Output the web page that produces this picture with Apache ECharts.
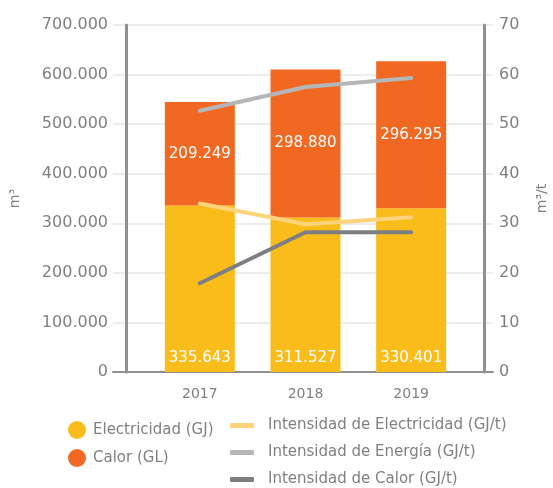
<!DOCTYPE html>
<html>
<head>
<meta charset="utf-8">
<script src="https://cdn.jsdelivr.net/npm/echarts@6/dist/echarts.min.js"></script>
<style>
  html, body { margin: 0; padding: 0; background: #fff; }
  #chart { width: 553px; height: 488px; }
</style>
</head>
<body>
<div id="chart"></div>
<script>
const years = ['2017', '2018', '2019'];
const electricidad = [335643, 311527, 330401];
const calor = [209249, 298880, 296295];
const intElectricidad = [34.0, 29.8, 31.2];
const intEnergia = [52.7, 57.5, 59.3];
const intCalor = [17.9, 28.2, 28.2];

const font = 'DejaVu Sans';
const grey = '#7f8083';
const axisGrey = '#8e9094';

// 335643 -> "335.643"
const fmt = (v) => String(Math.round(v)).replace(/\B(?=(\d{3})+(?!\d))/g, '.');

const chart = echarts.init(document.getElementById('chart'));

chart.setOption({
  backgroundColor: '#fff',
  animation: false,
  textStyle: { fontFamily: font },
  grid: [
    { left: 113, right: 60, top: 25, bottom: 116, outerBoundsMode: 'none', containLabel: false },
    { left: 147, right: 89, top: 25, bottom: 116, outerBoundsMode: 'none', containLabel: false },
  ],
  legend: [
    {
      orient: 'vertical',
      left: 68,
      top: 421,
      padding: 0,
      icon: 'circle',
      itemWidth: 18,
      itemHeight: 18,
      itemGap: 10,
      data: ['Electricidad (GJ)', 'Calor (GL)'],
      textStyle: { color: grey, fontSize: 15, fontFamily: font, padding: [0, 0, 0, 2] },
    },
    {
      orient: 'vertical',
      left: 230,
      top: 418,
      height: 70,
      padding: 0,
      icon: 'roundRect',
      itemWidth: 24,
      itemHeight: 5,
      itemGap: 12,
      data: ['Intensidad de Electricidad (GJ/t)', 'Intensidad de Energía (GJ/t)', 'Intensidad de Calor (GJ/t)'],
      textStyle: { color: grey, fontSize: 15, lineHeight: 15, fontFamily: font, padding: [0, 0, 0, 9] },
    },
  ],
  xAxis: [
    {
      gridIndex: 0,
      type: 'category',
      data: [''],
      axisLine: { lineStyle: { color: axisGrey, width: 2 } },
      axisTick: { show: false },
      axisLabel: { show: false },
    },
    {
      gridIndex: 1,
      type: 'category',
      data: years,
      axisLine: { show: false },
      axisTick: { show: false },
      axisLabel: { color: grey, fontSize: 14, margin: 15 },
    },
  ],
  yAxis: [
    {
      gridIndex: 0,
      type: 'value',
      position: 'left',
      offset: -13,
      min: 0,
      max: 700000,
      interval: 100000,
      name: 'm³',
      nameLocation: 'middle',
      nameRotate: 90,
      nameGap: 104,
      nameTextStyle: { color: grey, fontSize: 14 },
      axisLine: { show: true, lineStyle: { color: axisGrey, width: 3 } },
      axisTick: { show: false },
      axisLabel: { color: grey, fontSize: 16, margin: 18, formatter: fmt },
      splitLine: { lineStyle: { color: '#e6e6e6', width: 1.5 } },
    },
    {
      gridIndex: 0,
      type: 'value',
      position: 'right',
      offset: -9,
      min: 0,
      max: 70,
      interval: 10,
      name: 'm³/t',
      nameLocation: 'middle',
      nameRotate: 90,
      nameGap: 51,
      nameTextStyle: { color: grey, fontSize: 14 },
      axisLine: { show: true, lineStyle: { color: axisGrey, width: 3 } },
      axisTick: { show: false },
      axisLabel: { color: grey, fontSize: 16, margin: 15 },
      splitLine: { show: false },
    },
    { gridIndex: 1, type: 'value', min: 0, max: 700000, show: false },
    { gridIndex: 1, type: 'value', min: 0, max: 70, show: false },
  ],
  series: [
    {
      name: 'Electricidad (GJ)',
      type: 'bar',
      xAxisIndex: 1,
      yAxisIndex: 2,
      stack: 'total',
      barWidth: 70,
      itemStyle: { color: '#f9bc1b' },
      label: {
        show: true,
        position: 'insideBottom',
        distance: 6,
        color: '#fff',
        fontSize: 15,
        formatter: (p) => fmt(p.value),
      },
      data: electricidad,
    },
    {
      name: 'Calor (GL)',
      type: 'bar',
      xAxisIndex: 1,
      yAxisIndex: 2,
      stack: 'total',
      barWidth: 70,
      itemStyle: { color: '#f16822' },
      label: {
        show: true,
        position: 'inside',
        color: '#fff',
        fontSize: 15,
        formatter: (p) => fmt(p.value),
      },
      data: calor,
    },
    {
      name: 'Intensidad de Electricidad (GJ/t)',
      type: 'line',
      xAxisIndex: 1,
      yAxisIndex: 3,
      symbol: 'none',
      itemStyle: { color: '#fdd37c' },
      lineStyle: { color: '#fdd37c', width: 4, cap: 'round' },
      data: intElectricidad,
    },
    {
      name: 'Intensidad de Energía (GJ/t)',
      type: 'line',
      xAxisIndex: 1,
      yAxisIndex: 3,
      symbol: 'none',
      itemStyle: { color: '#b5b6b8' },
      lineStyle: { color: '#b5b6b8', width: 4, cap: 'round' },
      data: intEnergia,
    },
    {
      name: 'Intensidad de Calor (GJ/t)',
      type: 'line',
      xAxisIndex: 1,
      yAxisIndex: 3,
      symbol: 'none',
      itemStyle: { color: '#7c7e82' },
      lineStyle: { color: '#7c7e82', width: 4, cap: 'round' },
      data: intCalor,
    },
  ],
});
</script>
</body>
</html>
